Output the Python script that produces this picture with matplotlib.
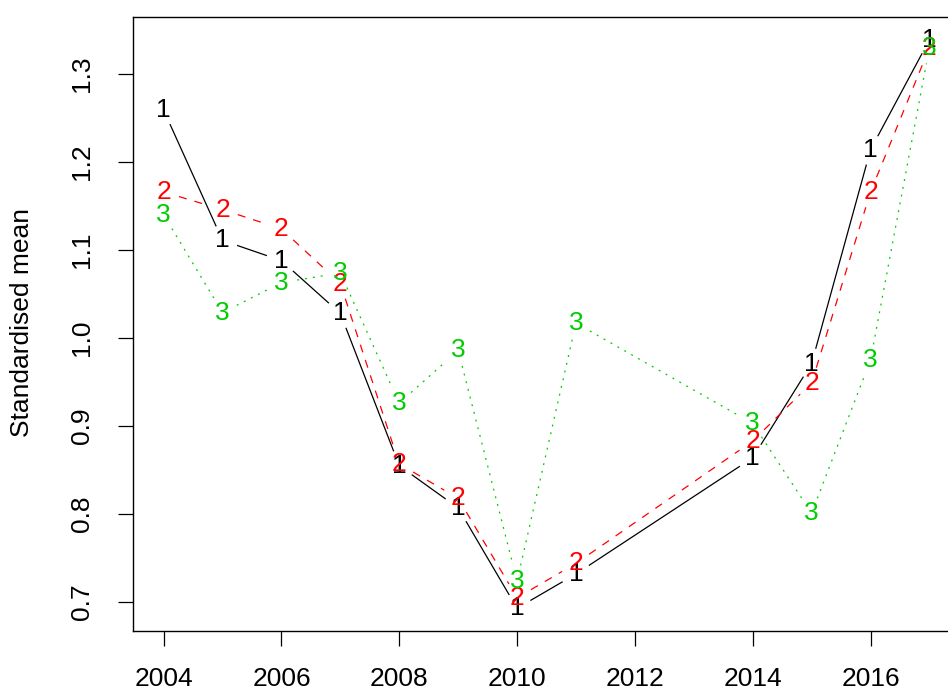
import numpy as np
import matplotlib
matplotlib.use('Agg')
import matplotlib.pyplot as plt

plt.rcParams['font.family'] = ['Liberation Sans', 'DejaVu Sans']
plt.rcParams['lines.scale_dashes'] = False

years = [2004, 2005, 2006, 2007, 2008, 2009, 2010, 2011, 2014, 2015, 2016, 2017]
group1 = [1.259, 1.111, 1.088, 1.028, 0.855, 0.807, 0.693, 0.732, 0.864, 0.971, 1.214, 1.339]
group2 = [1.166, 1.146, 1.124, 1.062, 0.857, 0.818, 0.705, 0.744, 0.883, 0.949, 1.166, 1.330]
group3 = [1.140, 1.029, 1.063, 1.074, 0.926, 0.986, 0.724, 1.017, 0.903, 0.801, 0.975, 1.330]

series = [('1', group1, 'black', '-'),
          ('2', group2, '#FF0000', (0, (5.8, 5.8))),
          ('3', group3, '#00CD00', (0, (1.4, 4.3)))]

fig = plt.figure(figsize=(9.48, 6.91), dpi=100)
ax = fig.add_axes([0.1403, 0.0868, 0.8724, 0.8886])

# R style axis range: data range padded by 4% on each side
x = np.array(years, dtype=float)
allv = np.concatenate([group1, group2, group3])
xr = x.max() - x.min()
yr = allv.max() - allv.min()
ax.set_xlim(x.min() - 0.04 * xr, x.max() + 0.04 * xr)
ax.set_ylim(allv.min() - 0.04 * yr, allv.max() + 0.04 * yr)

gap = 16.0  # pixels left blank around each label
fs = 19

for z, (lab, vals, col, ls) in enumerate(series):
    pts = ax.transData.transform(np.column_stack([x, vals]))
    inv = ax.transData.inverted()
    for i in range(len(pts) - 1):
        p0, p1 = pts[i], pts[i + 1]
        d = p1 - p0
        L = np.hypot(d[0], d[1])
        if L <= 2 * gap:
            continue
        u = d / L
        seg = inv.transform(np.array([p0 + u * gap, p1 - u * gap]))
        ax.plot(seg[:, 0], seg[:, 1], color=col, linestyle=ls, lw=0.9, zorder=2 + z)
    for xi, yi in zip(x, vals):
        ax.text(xi, yi, lab, color=col, fontsize=fs, ha='center', va='center', zorder=2 + z)

ax.set_xticks([2004, 2006, 2008, 2010, 2012, 2014, 2016])
ax.set_yticks([0.7, 0.8, 0.9, 1.0, 1.1, 1.2, 1.3])
ax.set_yticklabels(['0.7', '0.8', '0.9', '1.0', '1.1', '1.2', '1.3'])
ax.tick_params(direction='out', length=10.8, width=0.9, labelsize=fs)
ax.tick_params(axis='x', pad=15)
ax.tick_params(axis='y', pad=17)
for t in ax.get_yticklabels():
    t.set_rotation(90)
    t.set_va('center')
for s in ax.spines.values():
    s.set_linewidth(1.0)

fig.text(0.023, 0.534, 'Standardised mean', rotation=90, ha='center', va='center', fontsize=fs)

fig.savefig('out.png', dpi=100)
